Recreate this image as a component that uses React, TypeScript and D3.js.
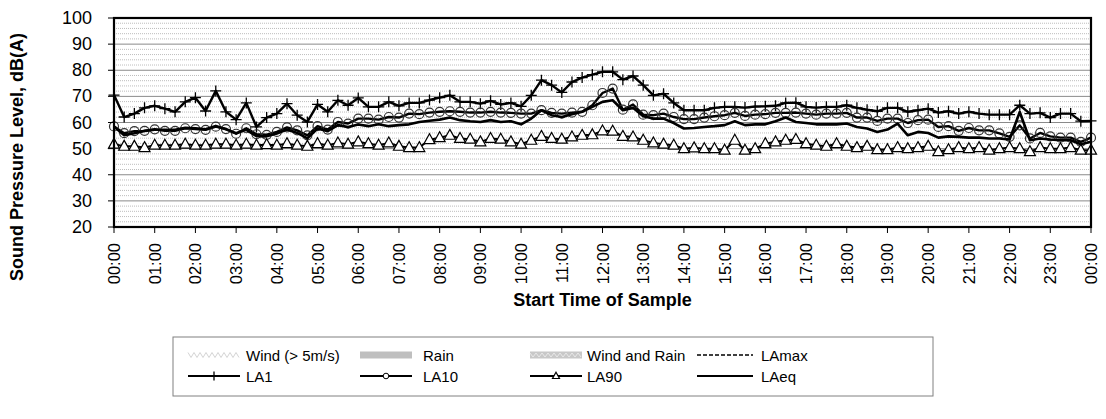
import React from "react";
import * as d3 from "d3";

// 15-minute samples from 00:00 to 00:00 the following day (97 points)
const LA1 = [
  70.5, 62.1, 63.4, 65.6, 66.4, 65.3, 64.1, 67.9, 69.5, 64.4, 72.1, 64.1, 61.1, 67.5, 58.3, 61.9,
  63.4, 67.2, 62.8, 60.2, 66.9, 64.1, 68.5, 66.6, 69.4, 66.0, 66.0, 67.9, 66.4, 67.5, 67.5, 68.6,
  69.5, 70.4, 67.9, 67.9, 67.2, 68.3, 66.9, 67.5, 66.2, 70.4, 76.2, 74.3, 71.5, 75.5, 77.2, 78.3,
  79.4, 79.4, 76.4, 77.8, 74.3, 70.4, 71.0, 67.5, 64.7, 64.7, 64.7, 65.6, 66.0, 66.0, 65.7, 66.1,
  66.2, 66.4, 67.5, 67.6, 66.0, 65.7, 66.0, 66.0, 66.6, 65.6, 64.9, 64.3, 65.6, 65.6, 64.1, 64.7,
  65.3, 63.8, 64.3, 63.4, 64.1, 63.4, 63.0, 63.0, 63.0, 66.6, 63.4, 63.7, 61.9, 63.4, 63.4, 60.5,
  60.6,
];
const LA10 = [
  58.5, 55.9, 56.7, 56.8, 57.4, 56.8, 56.8, 57.8, 57.5, 57.2, 58.4, 57.5, 55.7, 57.8, 55.5, 55.3,
  56.4, 58.1, 57.0, 55.1, 58.6, 57.3, 60.2, 59.6, 61.5, 61.5, 61.1, 62.1, 61.9, 63.4, 63.2, 63.8,
  64.1, 64.3, 64.1, 63.8, 63.8, 64.1, 63.8, 63.7, 63.4, 63.4, 64.7, 63.7, 63.4, 63.8, 64.1, 66.6,
  71.3, 73.0, 64.9, 66.9, 63.0, 62.8, 63.4, 62.1, 61.3, 61.3, 61.9, 62.4, 62.8, 63.7, 62.5, 63.0,
  63.2, 63.7, 63.7, 63.8, 63.4, 63.0, 63.4, 63.4, 63.7, 61.9, 61.9, 60.6, 61.5, 61.5, 59.8, 60.9,
  61.1, 58.3, 58.6, 56.8, 57.9, 57.0, 57.0, 55.8, 54.5, 58.9, 53.9, 56.0, 54.7, 54.2, 54.2, 52.6,
  54.2,
];
const LA90 = [
  51.7, 50.9, 50.9, 50.4, 51.3, 51.3, 51.3, 51.7, 51.3, 51.3, 51.7, 51.7, 51.3, 51.7, 51.3, 51.5,
  51.3, 51.9, 51.3, 50.9, 51.9, 51.3, 52.2, 51.7, 52.6, 51.9, 51.3, 52.2, 50.9, 50.4, 50.4, 53.4,
  54.2, 55.1, 53.9, 53.6, 52.6, 53.9, 53.6, 52.6, 51.7, 53.2, 54.7, 53.9, 53.6, 54.5, 55.1, 55.3,
  56.8, 56.7, 54.7, 54.5, 53.2, 52.2, 51.7, 51.3, 50.0, 50.3, 50.0, 50.0, 49.4, 53.2, 49.4, 50.0,
  51.9, 52.6, 53.2, 53.5, 51.9, 51.3, 50.9, 51.9, 50.9, 50.4, 50.9, 49.6, 49.6, 50.4, 50.0, 50.4,
  50.9, 48.8, 49.6, 50.4, 50.0, 50.4, 49.4, 50.0, 50.4, 50.0, 48.8, 50.4, 50.0, 50.0, 50.4, 49.4,
  49.4,
];
const LAEQ = [
  58.5, 55.1, 55.9, 56.8, 57.2, 57.2, 57.2, 58.0, 57.8, 57.4, 58.7, 57.4, 55.9, 57.2, 54.8, 54.7,
  55.8, 57.3, 56.0, 53.9, 57.7, 56.7, 59.0, 58.3, 59.2, 58.6, 59.3, 58.6, 59.0, 59.3, 60.2, 60.7,
  61.1, 61.9, 60.9, 60.5, 60.2, 60.9, 60.2, 60.5, 59.3, 61.5, 64.7, 62.8, 62.1, 63.2, 64.1, 66.0,
  67.9, 68.5, 64.7, 65.6, 62.4, 61.5, 61.5, 59.8, 57.7, 57.9, 58.3, 58.6, 59.0, 60.5, 59.0, 59.3,
  59.3, 60.5, 61.9, 60.2, 59.8, 59.3, 59.3, 59.3, 59.6, 58.3, 57.7, 56.4, 57.3, 59.6, 55.1, 56.4,
  56.0, 54.2, 54.7, 54.5, 54.2, 54.2, 53.9, 53.9, 53.5, 64.0, 53.2, 53.9, 53.5, 53.2, 53.2, 51.7,
  52.6,
];

const HOUR_LABELS = [
  "00:00", "01:00", "02:00", "03:00", "04:00", "05:00", "06:00", "07:00", "08:00", "09:00",
  "10:00", "11:00", "12:00", "13:00", "14:00", "15:00", "16:00", "17:00", "18:00", "19:00",
  "20:00", "21:00", "22:00", "23:00", "00:00",
];
const Y_TICKS = [20, 30, 40, 50, 60, 70, 80, 90, 100];
const LEGEND_ROW1 = ["Wind (> 5m/s)", "Rain", "Wind and Rain", "LAmax"];
const LEGEND_ROW2 = ["LA1", "LA10", "LA90", "LAeq"];

const FONT = "Arial, 'Liberation Sans', sans-serif";
const W = 1106;
const H = 419;
const PLOT = { left: 114, right: 1091, top: 18, bottom: 227 };

const x = d3.scaleLinear().domain([0, 96]).range([PLOT.left, PLOT.right]);
const y = d3.scaleLinear().domain([20, 100]).range([PLOT.bottom, PLOT.top]);
const hourX = d3.scaleLinear().domain([0, 24]).range([PLOT.left, PLOT.right]);

const line = d3
  .line<number>()
  .x((_, i) => x(i))
  .y((d) => y(d));

function zigzag(x0: number, x1: number, yc: number, amp: number, step: number) {
  const pts: [number, number][] = [];
  let k = 0;
  for (let px = x0; px <= x1; px += step, k++) {
    pts.push([px, yc + (k % 2 === 0 ? -amp : amp)]);
  }
  return d3.line()(pts) || "";
}

function Plus({ cx, cy, s = 5.5 }: { cx: number; cy: number; s?: number }) {
  return (
    <path
      d={`M${cx - s},${cy}H${cx + s}M${cx},${cy - s}V${cy + s}`}
      stroke="#000"
      strokeWidth={1.3}
      fill="none"
    />
  );
}

function Tri({ cx, cy, s = 5.5 }: { cx: number; cy: number; s?: number }) {
  const h = s * 1.8;
  return (
    <path
      d={`M${cx},${cy - h * 0.6}L${cx + s},${cy + h * 0.4}L${cx - s},${cy + h * 0.4}Z`}
      fill="#fff"
      stroke="#000"
      strokeWidth={1.2}
    />
  );
}

export default function App() {
  const minorTicks = d3.range(22, 100, 2).filter((v) => v % 10 !== 0);
  const majorTicks = Y_TICKS.filter((v) => v > 20 && v < 100);
  const iconX = [188, 360, 530, 697];
  const textX = [246, 423, 587, 761];
  const iconW = 52;
  const rowY = [355, 376];
  const legend = { left: 173, top: 337, right: 933, bottom: 396 };

  return (
    <svg
      width={W}
      height={H}
      style={{ position: "absolute", left: 0, top: 0, background: "#fff" }}
      fontFamily={FONT}
    >
      <rect x={0} y={0} width={W} height={H} fill="#fff" />

      {/* gridlines */}
      {minorTicks.map((v) => (
        <line
          key={`mn${v}`}
          x1={PLOT.left}
          x2={PLOT.right}
          y1={y(v)}
          y2={y(v)}
          stroke="#bdbdbd"
          strokeWidth={1}
          strokeDasharray="1,1"
        />
      ))}
      {majorTicks.map((v) => (
        <line
          key={`mj${v}`}
          x1={PLOT.left}
          x2={PLOT.right}
          y1={y(v)}
          y2={y(v)}
          stroke="#8a8a8a"
          strokeWidth={1}
        />
      ))}

      {/* series */}
      <path d={line(LA1) || ""} fill="none" stroke="#000" strokeWidth={2.4} strokeLinejoin="round" />
      {LA1.map((v, i) => (
        <Plus key={`p${i}`} cx={x(i)} cy={y(v)} />
      ))}
      <path d={line(LA10) || ""} fill="none" stroke="#000" strokeWidth={2.4} strokeLinejoin="round" />
      {LA10.map((v, i) => (
        <circle key={`c${i}`} cx={x(i)} cy={y(v)} r={4.5} fill="none" stroke="#333" strokeWidth={1.2} />
      ))}
      <path d={line(LA90) || ""} fill="none" stroke="#000" strokeWidth={2} strokeLinejoin="round" />
      {LA90.map((v, i) => (
        <Tri key={`t${i}`} cx={x(i)} cy={y(v)} />
      ))}
      <path d={line(LAEQ) || ""} fill="none" stroke="#000" strokeWidth={2.6} strokeLinejoin="round" />

      {/* frame */}
      <rect
        x={PLOT.left}
        y={PLOT.top}
        width={PLOT.right - PLOT.left}
        height={PLOT.bottom - PLOT.top}
        fill="none"
        stroke="#000"
        strokeWidth={2.2}
      />

      {/* y axis */}
      {Y_TICKS.map((v) => (
        <g key={`yt${v}`}>
          <line x1={PLOT.left - 6} x2={PLOT.left} y1={y(v)} y2={y(v)} stroke="#000" strokeWidth={1} />
          <text x={92} y={y(v)} textAnchor="end" dominantBaseline="central" fontSize={18} fill="#000">
            {v}
          </text>
        </g>
      ))}
      <text
        transform="translate(17,157) rotate(-90)"
        textAnchor="middle"
        dominantBaseline="central"
        fontSize={18}
        fontWeight="bold"
        fill="#000"
      >
        Sound Pressure Level, dB(A)
      </text>

      {/* x axis */}
      {HOUR_LABELS.map((lab, h) => (
        <g key={`xt${h}`}>
          <line
            x1={hourX(h)}
            x2={hourX(h)}
            y1={PLOT.bottom}
            y2={PLOT.bottom + 6}
            stroke="#000"
            strokeWidth={1}
          />
          <text
            transform={`translate(${hourX(h)},${PLOT.bottom + 16}) rotate(-90)`}
            textAnchor="end"
            dominantBaseline="central"
            fontSize={16.5}
            fill="#000"
          >
            {lab}
          </text>
        </g>
      ))}
      <text
        x={(PLOT.left + PLOT.right) / 2}
        y={306}
        textAnchor="middle"
        fontSize={18}
        fontWeight="bold"
        fill="#000"
      >
        Start Time of Sample
      </text>

      {/* legend */}
      <rect
        x={legend.left}
        y={legend.top}
        width={legend.right - legend.left}
        height={legend.bottom - legend.top}
        fill="#fff"
        stroke="#808080"
        strokeWidth={1}
      />
      {/* Wind */}
      <path
        d={zigzag(iconX[0], iconX[0] + iconW, rowY[0], 2.5, 3)}
        fill="none"
        stroke="#d4d4d4"
        strokeWidth={1}
      />
      {/* Rain */}
      <rect x={iconX[1]} y={rowY[0] - 3.5} width={iconW} height={7} fill="#bfbfbf" />
      {/* Wind and Rain */}
      <rect x={iconX[2]} y={rowY[0] - 3.5} width={iconW} height={7} fill="#c8c8c8" />
      <path
        d={zigzag(iconX[2], iconX[2] + iconW, rowY[0], 2, 3)}
        fill="none"
        stroke="#e8e8e8"
        strokeWidth={1}
      />
      {/* LAmax */}
      <line
        x1={iconX[3]}
        x2={iconX[3] + iconW + 4}
        y1={rowY[0]}
        y2={rowY[0]}
        stroke="#000"
        strokeWidth={1.6}
        strokeDasharray="4,2"
      />
      {/* second row line icons */}
      {iconX.map((cx, k) => (
        <line
          key={`ll${k}`}
          x1={cx}
          x2={cx + iconW + (k === 3 ? 4 : 0)}
          y1={rowY[1]}
          y2={rowY[1]}
          stroke="#000"
          strokeWidth={2}
        />
      ))}
      <Plus cx={iconX[0] + iconW / 2} cy={rowY[1]} s={4.5} />
      <circle cx={iconX[1] + iconW / 2} cy={rowY[1]} r={2.8} fill="#fff" stroke="#000" strokeWidth={1} />
      <Tri cx={iconX[2] + iconW / 2} cy={rowY[1]} s={3.5} />

      {LEGEND_ROW1.map((t, k) => (
        <text key={`l1${k}`} x={textX[k]} y={rowY[0]} dominantBaseline="central" fontSize={15} fill="#000">
          {t}
        </text>
      ))}
      {LEGEND_ROW2.map((t, k) => (
        <text key={`l2${k}`} x={textX[k]} y={rowY[1]} dominantBaseline="central" fontSize={15} fill="#000">
          {t}
        </text>
      ))}
    </svg>
  );
}
